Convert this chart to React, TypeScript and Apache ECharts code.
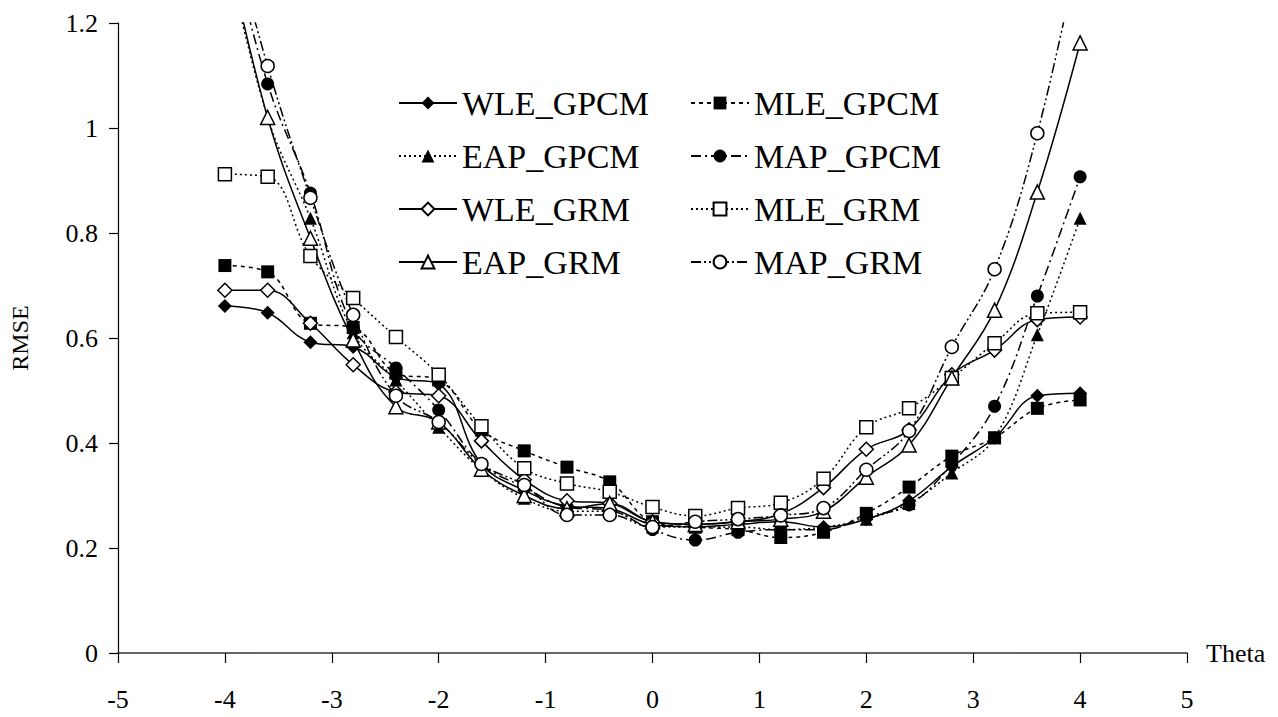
import React, { useEffect, useRef } from 'react';
import * as echarts from 'echarts';

const THETA = [-4, -3.6, -3.2, -2.8, -2.4, -2, -1.6, -1.2, -0.8, -0.4, 0, 0.4, 0.8, 1.2, 1.6, 2, 2.4, 2.8, 3.2, 3.6, 4];

const WLE_GPCM = [0.661, 0.648, 0.592, 0.583, 0.525, 0.512, 0.36, 0.31, 0.28, 0.275, 0.245, 0.24, 0.245, 0.25, 0.24, 0.255, 0.29, 0.355, 0.41, 0.49, 0.495];
const MLE_GPCM = [0.738, 0.726, 0.628, 0.62, 0.533, 0.52, 0.425, 0.385, 0.354, 0.326, 0.25, 0.24, 0.235, 0.22, 0.23, 0.266, 0.316, 0.375, 0.41, 0.466, 0.482];
const EAP_GPCM = [1.35, 1.02, 0.828, 0.61, 0.52, 0.43, 0.349, 0.295, 0.27, 0.27, 0.24, 0.24, 0.24, 0.235, 0.24, 0.255, 0.285, 0.343, 0.41, 0.606, 0.828];
const MAP_GPCM = [1.4, 1.084, 0.876, 0.62, 0.543, 0.463, 0.36, 0.316, 0.278, 0.272, 0.235, 0.215, 0.23, 0.235, 0.235, 0.26, 0.282, 0.36, 0.47, 0.68, 0.907];
const WLE_GRM = [0.691, 0.691, 0.628, 0.549, 0.497, 0.49, 0.404, 0.33, 0.29, 0.285, 0.25, 0.245, 0.25, 0.265, 0.315, 0.388, 0.425, 0.53, 0.577, 0.635, 0.64];
const MLE_GRM = [0.912, 0.907, 0.756, 0.676, 0.602, 0.53, 0.432, 0.352, 0.323, 0.307, 0.278, 0.261, 0.276, 0.286, 0.332, 0.43, 0.466, 0.524, 0.59, 0.647, 0.649];
const EAP_GRM = [1.36, 1.02, 0.79, 0.596, 0.469, 0.44, 0.35, 0.3, 0.275, 0.285, 0.25, 0.245, 0.25, 0.255, 0.27, 0.335, 0.396, 0.524, 0.653, 0.878, 1.162];
const MAP_GRM = [1.42, 1.118, 0.867, 0.644, 0.49, 0.44, 0.36, 0.32, 0.263, 0.263, 0.24, 0.25, 0.255, 0.262, 0.276, 0.349, 0.423, 0.583, 0.731, 0.99, 1.35];

const LEFT_LEGEND = ['WLE_GPCM', 'EAP_GPCM', 'WLE_GRM', 'EAP_GRM'];
const RIGHT_LEGEND = ['MLE_GPCM', 'MAP_GPCM', 'MLE_GRM', 'MAP_GRM'];

const FONT = 'Liberation Serif';

type Def = { name: string; values: number[]; symbol: string; filled: boolean; dash: any; size: number };

const DEFS: Def[] = [
  { name: 'WLE_GPCM', values: WLE_GPCM, symbol: 'diamond', filled: true, dash: 'solid', size: 14 },
  { name: 'MLE_GPCM', values: MLE_GPCM, symbol: 'rect', filled: true, dash: [4, 4], size: 13 },
  { name: 'EAP_GPCM', values: EAP_GPCM, symbol: 'triangle', filled: true, dash: [2, 3], size: 13 },
  { name: 'MAP_GPCM', values: MAP_GPCM, symbol: 'circle', filled: true, dash: [10, 4, 2, 4], size: 13 },
  { name: 'WLE_GRM', values: WLE_GRM, symbol: 'diamond', filled: false, dash: 'solid', size: 14 },
  { name: 'MLE_GRM', values: MLE_GRM, symbol: 'rect', filled: false, dash: [2, 3], size: 13 },
  { name: 'EAP_GRM', values: EAP_GRM, symbol: 'triangle', filled: false, dash: 'solid', size: 14 },
  { name: 'MAP_GRM', values: MAP_GRM, symbol: 'circle', filled: false, dash: [10, 3, 2, 3, 2, 3], size: 13 },
];

export default function App() {
  const ref = useRef<HTMLDivElement>(null);
  useEffect(() => {
    if (!ref.current) return;
    const chart = echarts.init(ref.current, undefined, { renderer: 'svg' });
    const legendBase = {
      orient: 'vertical',
      top: 78,
      itemWidth: 58,
      itemHeight: 16,
      itemGap: 13,
      selectedMode: false,
      textStyle: { fontSize: 34, fontFamily: FONT, color: '#000', lineHeight: 40 },
    };
    chart.setOption({
      animation: false,
      backgroundColor: '#fff',
      textStyle: { fontFamily: FONT, color: '#000' },
      grid: { left: 112, right: 91, top: 23, bottom: 64, containLabel: false },
      legend: [
        { ...legendBase, left: 393, data: LEFT_LEGEND },
        { ...legendBase, left: 685, data: RIGHT_LEGEND },
      ],
      xAxis: {
        type: 'value',
        min: -5,
        max: 5,
        interval: 1,
        name: 'Theta',
        nameLocation: 'end',
        nameGap: 19,
        nameTextStyle: { fontSize: 26, fontFamily: FONT, color: '#000', padding: [0, 0, 16, 0] },
        axisLine: { show: true, onZero: true, lineStyle: { color: '#333', width: 1.5 } },
        axisTick: { show: true, inside: false, length: 10, lineStyle: { color: '#000', width: 1.2 } },
        splitLine: { show: false },
        axisLabel: { fontSize: 26, fontFamily: FONT, color: '#000', margin: 33 },
      },
      yAxis: {
        type: 'value',
        min: 0,
        max: 1.2,
        interval: 0.2,
        name: 'RMSE',
        nameLocation: 'middle',
        nameGap: 86,
        nameTextStyle: { fontSize: 24, fontFamily: FONT, color: '#000' },
        axisLine: { show: true, onZero: false, lineStyle: { color: '#000', width: 1.2 } },
        axisTick: { show: true, inside: false, length: 9, lineStyle: { color: '#000', width: 1.2 } },
        splitLine: { show: false },
        axisLabel: {
          fontSize: 26,
          fontFamily: FONT,
          color: '#000',
          margin: 20,
          formatter: (v: number) => String(Number(v.toFixed(1))),
        },
      },
      series: DEFS.map((d) => ({
        name: d.name,
        type: 'line',
        smooth: 0.4,
        clip: true,
        data: THETA.map((t, i) => [t, d.values[i]]),
        symbol: d.symbol,
        symbolSize: d.size,
        showAllSymbol: true,
        lineStyle: { color: '#000', width: 1.5, type: d.dash },
        itemStyle: {
          color: d.filled ? '#000' : '#fff',
          borderColor: '#000',
          borderWidth: d.filled ? 0 : 1.5,
        },
        emphasis: { disabled: true },
      })),
    });
    return () => chart.dispose();
  }, []);
  return <div ref={ref} style={{ position: 'fixed', left: 0, top: 0, width: 1278, height: 717 }} />;
}
